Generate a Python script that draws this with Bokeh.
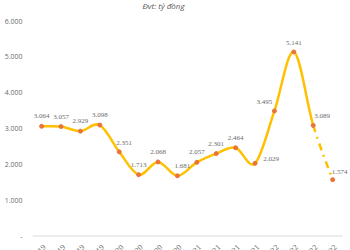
import numpy as np
from bokeh.plotting import figure
from bokeh.models import ColumnDataSource, FixedTicker, LabelSet, Label
from bokeh.embed import file_html
from bokeh.resources import INLINE

# Quarterly values (tỷ đồng)
quarters = ["Q1/19", "Q2/19", "Q3/19", "Q4/19", "Q1/20", "Q2/20", "Q3/20", "Q4/20",
            "Q1/21", "Q2/21", "Q3/21", "Q4/21", "Q1/22", "Q2/22", "Q3/22", "Q4/22"]
values = [3064, 3057, 2929, 3098, 2351, 1713, 2068, 1681,
          2057, 2301, 2464, 2029, 3495, 5141, 3089, 1574]
y_ticks = [0, 1000, 2000, 3000, 4000, 5000, 6000]
unit_note = "Đvt: tỷ đồng"

# per-label nudges (screen px)
label_dx = [0, 0, 0, 0, 5, 0, 0, 5, 0, 0, 0, 16, -10, 0, 9, 7]
label_dy = [10, 10, 10, 10, 9, 10, 10, 10, 10, 10, 10, 4, 9, 9, 9, 8]


def fmt(v):
    return f"{v:,}".replace(",", ".")


x = np.arange(len(values), dtype=float)
y = np.array(values, dtype=float)

# Smoothed curve: cubic Bézier segments through every point
xp = np.concatenate([[x[0]], x, [x[-1]]])
yp = np.concatenate([[y[0]], y, [y[-1]]])
seg = dict(x0=[], y0=[], x1=[], y1=[], cx0=[], cy0=[], cx1=[], cy1=[])
for i in range(len(x) - 1):
    p0x, p0y = xp[i], yp[i]
    p1x, p1y = xp[i + 1], yp[i + 1]
    p2x, p2y = xp[i + 2], yp[i + 2]
    p3x, p3y = xp[i + 3], yp[i + 3]
    seg["x0"].append(p1x); seg["y0"].append(p1y)
    seg["x1"].append(p2x); seg["y1"].append(p2y)
    seg["cx0"].append(p1x + (p2x - p0x) / 6); seg["cy0"].append(p1y + (p2y - p0y) / 6)
    seg["cx1"].append(p2x - (p3x - p1x) / 6); seg["cy1"].append(p2y - (p3y - p1y) / 6)

solid = ColumnDataSource({k: v[:-1] for k, v in seg.items()})
dashed = ColumnDataSource({k: v[-1:] for k, v in seg.items()})

# frame spans the full canvas height so the note and category labels can sit in it
p = figure(width=350, height=250, output_backend="svg", toolbar_location=None,
           x_range=(-0.47, 15.92), y_range=(-405, 6578),
           min_border_left=32, min_border_right=0, min_border_bottom=0,
           min_border_top=0)

p.outline_line_color = None
p.xgrid.grid_line_color = None
p.ygrid.grid_line_color = None
p.background_fill_color = "white"
p.border_fill_color = "white"

p.add_layout(Label(x=5.2, y=6440, text=unit_note, text_font="Open Sans",
                   text_font_style="italic", text_font_size="8px", text_color="#595959",
                   text_align="left", text_baseline="middle"))

# category axis baseline
p.segment(x0=[-0.47], y0=[0], x1=[15.5], y1=[0], line_color="#D9D9D9", line_width=1)

p.bezier(x0="x0", y0="y0", x1="x1", y1="y1", cx0="cx0", cy0="cy0", cx1="cx1", cy1="cy1",
         source=solid, line_color="#FFC000", line_width=2.5)
p.bezier(x0="x0", y0="y0", x1="x1", y1="y1", cx0="cx0", cy0="cy0", cx1="cx1", cy1="cy1",
         source=dashed, line_color="#FFC000", line_width=2.5, line_dash="7 5 2 5")

pts = ColumnDataSource(dict(x=x, y=y, lbl=[fmt(v) for v in values],
                            dx=label_dx, dy=label_dy))
p.scatter("x", "y", source=pts, size=4, fill_color="#E8743B", line_color="#E8743B")

labels = LabelSet(x="x", y="y", text="lbl", source=pts, x_offset="dx", y_offset="dy",
                  text_font="Open Sans", text_font_size="7px", text_color="#6b6b6b",
                  text_align="center", text_baseline="middle")
p.add_layout(labels)

# rotated category labels below the baseline
cat = ColumnDataSource(dict(x=x, y=np.zeros_like(x), q=quarters))
cat_labels = LabelSet(x="x", y="y", text="q", source=cat, x_offset=3, y_offset=-10,
                      angle=np.pi / 4, text_font="Open Sans", text_font_size="8px",
                      text_color="#6b6b6b", text_align="right", text_baseline="middle")
p.add_layout(cat_labels)

p.xaxis.visible = False

p.yaxis.ticker = FixedTicker(ticks=y_ticks)
p.yaxis.major_label_overrides = {t: ("-" if t == 0 else fmt(t)) for t in y_ticks}
p.yaxis.axis_line_color = None
p.yaxis.major_tick_line_color = None
p.yaxis.minor_tick_line_color = None
p.yaxis.major_label_text_font = "Open Sans"
p.yaxis.major_label_text_font_size = "7px"
p.yaxis.major_label_text_color = "#6b6b6b"
p.yaxis.major_label_standoff = 4

open("out.html", "w").write(file_html(p, INLINE))
